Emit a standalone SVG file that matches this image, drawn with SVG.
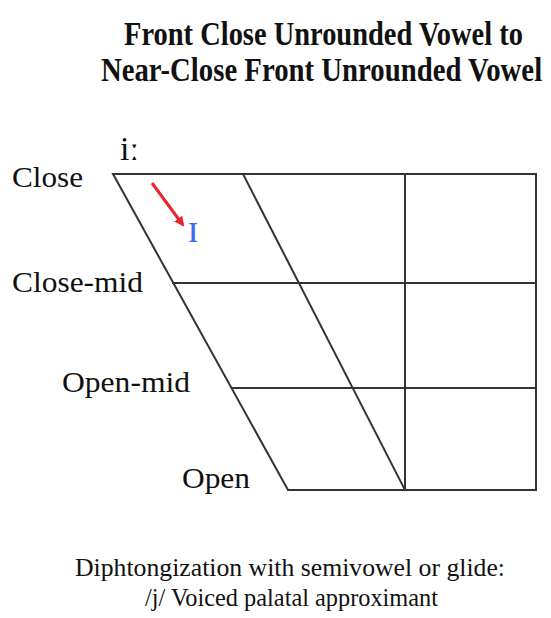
<svg xmlns="http://www.w3.org/2000/svg" width="551" height="618" viewBox="0 0 551 618">
<defs>
<style>
.t{font-family:"Liberation Serif","Times New Roman",serif;fill:#111}
.ttl{font-weight:bold;font-size:34px}
.lbl{font-size:30px}
.g{stroke:#333;stroke-width:2;fill:none;stroke-linecap:square}
</style>
<marker id="ah" markerWidth="10" markerHeight="10" refX="8" refY="5" orient="auto" markerUnits="userSpaceOnUse">
<path d="M0,0 L10,5 L0,10 Z" fill="#e8262b"/>
</marker>
</defs>
<rect width="551" height="618" fill="#fff"/>
<g id="title">
<text class="t ttl" text-anchor="middle" transform="translate(323.5,45) scale(0.837,1)">Front Close Unrounded Vowel to</text>
<text class="t ttl" text-anchor="middle" transform="translate(321.5,81) scale(0.846,1)">Near-Close Front Unrounded Vowel</text>
</g>
<g id="chart">
<path class="g" d="M113,174 H536 V490 H288 Z"/>
<path class="g" d="M243,174 L405,490"/>
<path class="g" d="M405,174 V490"/>
<path class="g" d="M173,283 H536"/>
<path class="g" d="M232,388 H536"/>
</g>
<g id="labels">
<text class="t lbl" x="12" y="187" textLength="71" lengthAdjust="spacingAndGlyphs">Close</text>
<text class="t lbl" x="12" y="292" textLength="131" lengthAdjust="spacingAndGlyphs">Close-mid</text>
<text class="t lbl" x="62" y="392" textLength="128" lengthAdjust="spacingAndGlyphs">Open-mid</text>
<text class="t lbl" x="182" y="488" textLength="68" lengthAdjust="spacingAndGlyphs">Open</text>
</g>
<g id="vowel-i">
<text class="t" x="120" y="160" font-size="34">iː</text>
</g>
<g id="vowel-ih">
<text class="t" x="193" y="242" font-size="40" style="fill:#3d6cf0" text-anchor="middle">ɪ</text>
</g>
<g id="connectors">
<path d="M152,183 L183,225" stroke="#e8262b" stroke-width="3" fill="none" marker-end="url(#ah)"/>
</g>
<g id="caption">
<text class="t" x="75" y="576" font-size="26" textLength="430" lengthAdjust="spacingAndGlyphs">Diphtongization with semivowel or glide:</text>
<text class="t" x="145" y="606" font-size="26" textLength="293" lengthAdjust="spacingAndGlyphs">/j/ Voiced palatal approximant</text>
</g>
</svg>
